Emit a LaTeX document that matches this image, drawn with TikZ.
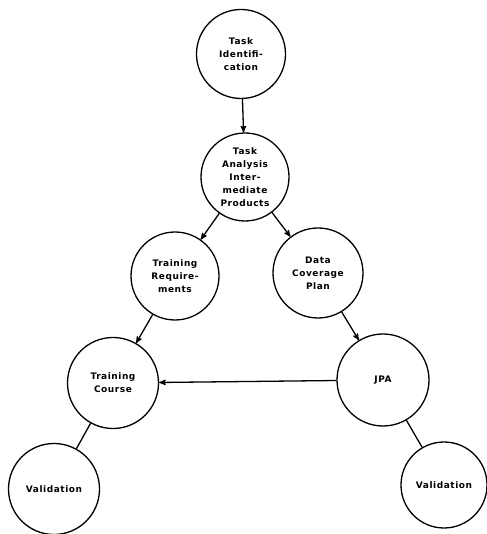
\documentclass[tikz,border=0pt]{standalone}
\usepackage{xcolor}
\usepackage{fontspec}
\setmainfont{DejaVu Sans}[LetterSpace=6]
\usepackage{tikz}
\usetikzlibrary{arrows}

\begin{document}
\begin{tikzpicture}[x=1pt,y=1pt,->,>=stealth',line width=1.3pt,
    main node/.style={circle,draw,inner sep=0pt,minimum size=89pt,align=center,
      font=\fontsize{9}{13}\selectfont\bfseries}]
    \useasboundingbox (0,0) rectangle (486,534);
    \node[main node] (0) at (241,480) {Task\\Identifi-\\cation};
    \node[main node,minimum size=88pt] (1) at (245,357) {Task\\Analysis\\Inter-\\mediate\\Products};
    \node[main node,minimum size=88pt] (2) at (175,258) {Training\\Require-\\ments};
    \node[main node,minimum size=90pt] (3) at (318,261) {Data\\Coverage\\Plan};
    \node[main node,minimum size=91pt] (4) at (113,151) {Training\\Course};
    \node[main node,minimum size=92pt] (5) at (383,154) {JPA};
    \node[main node,minimum size=91pt] (6) at (54,45) {Validation};
    \node[main node,minimum size=86pt] (7) at (444,49) {Validation};

    \path (0) edge (1)
          (1) edge (2)
          (1) edge (3)
          (2) edge (4)
          (3) edge (5)
          (5) edge (4);
    \draw[-] (4) -- (6);
    \draw[-] (5) -- (7);
  \end{tikzpicture}
\end{document}
